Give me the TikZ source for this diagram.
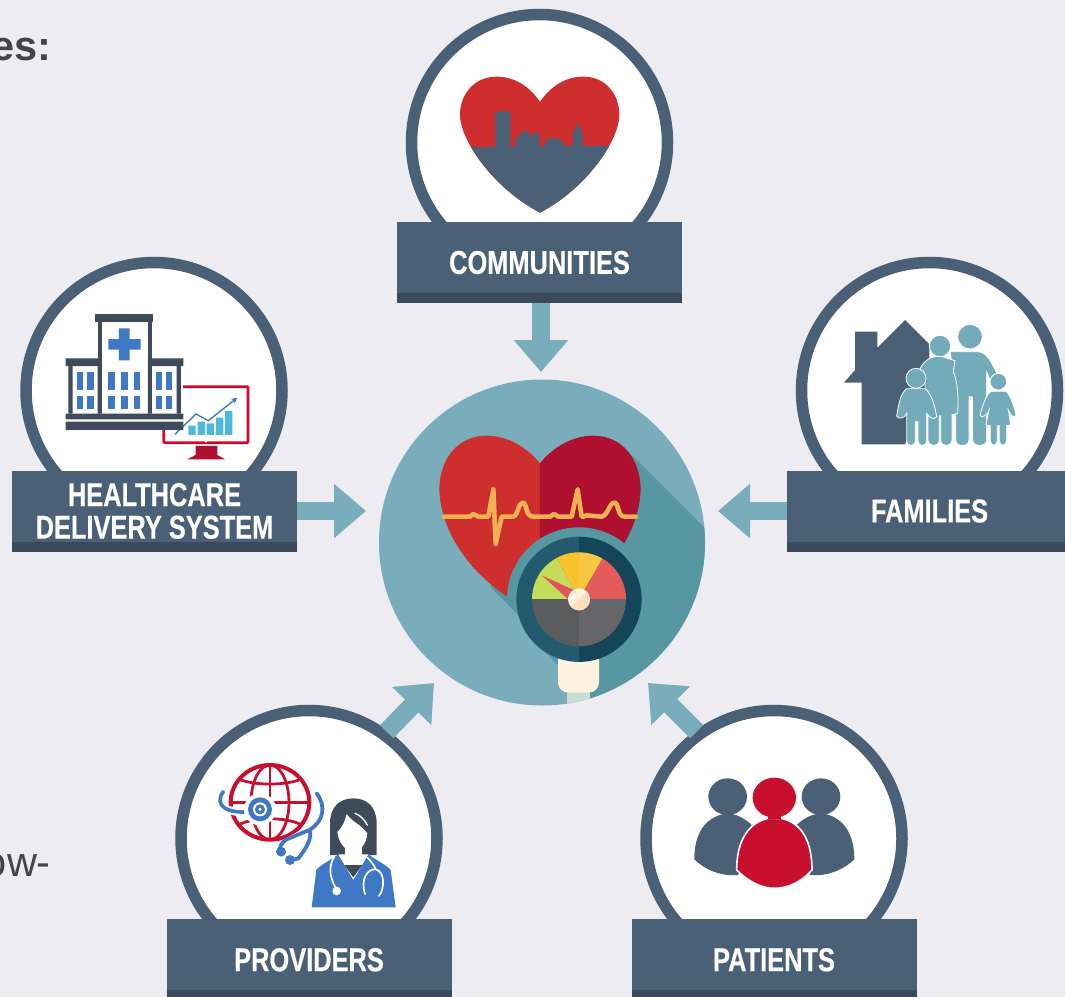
\documentclass[tikz,border=0pt]{standalone}
\usepackage{fontspec}
\setmainfont{Liberation Sans}
\newfontfamily\labelfont[FakeStretch=0.77,BoldFeatures={FakeStretch=0.77,FakeBold=0.4}]{Liberation Sans}
\usetikzlibrary{arrows.meta}
\definecolor{bgc}{HTML}{ECECF1}
\definecolor{slate}{HTML}{4A6076}
\definecolor{slatedark}{HTML}{3A4A5C}
\definecolor{hubteal}{HTML}{79ADBC}
\definecolor{icteal}{HTML}{74ABBB}
\definecolor{tealdark}{HTML}{5797A2}
\definecolor{hred}{HTML}{CF2E2E}
\definecolor{hcrim}{HTML}{B01030}
\definecolor{ecg}{HTML}{EFB252}
\definecolor{crim}{HTML}{C8102E}
\definecolor{blu}{HTML}{3F78C4}
\definecolor{ink}{HTML}{3F4A5A}
\definecolor{txt}{HTML}{444447}
\tikzset{
  ringnode/.style={circle,draw=slate,fill=white,line width=11.5bp,minimum size=256bp,inner sep=0pt,outer sep=0pt},
  tagnode/.style={rectangle,fill=slate,minimum width=285bp,minimum height=81bp,inner sep=0pt,outer sep=0pt,text=white,
     font=\labelfont\bfseries\fontsize{33bp}{32.5bp}\selectfont,align=center},
  hubnode/.style={circle,fill=hubteal,minimum size=326bp,inner sep=0pt,outer sep=0pt},
  flow/.style={draw=hubteal,line width=18.7bp,-{Triangle[length=32bp,width=52.5bp]}},
  strip/.style={fill=slatedark},
  zoomed/.style={x=.33333bp,y=-.33333bp},
  person/.style={fill=icteal,draw=white,line width=.8bp},
  sidetext/.style={text=txt,inner sep=0pt,font=\fontsize{41.5bp}{44bp}\selectfont}
}
\begin{document}
\begin{tikzpicture}[x=1bp,y=-1bp]
\useasboundingbox (0,0) rectangle (1065,997);
\fill[bgc] (0,0) rectangle (1065,997);
\node[sidetext,anchor=base east] (sideA) at (51.5,60.5) {\bfseries es:};
\node[sidetext,anchor=base east] (sideB) at (51,876.7) {ow-};

% rings
\node[ringnode] (commRing) at (539.5,142.5) {};
\node[ringnode] (careRing) at (154,390.5) {};
\node[ringnode] (famRing)  at (929.5,390.5) {};
\node[ringnode] (provRing) at (309,838.5) {};
\node[ringnode] (patRing)  at (774,838.5) {};
% hub
\node[hubnode] (hub) at (542,542.5) {};

% ---------- hub art
\begin{scope}
\clip (542,542.5) circle (163);
\fill[tealdark] (632,455)--(770,593)--(770,780)--(590,780)--(590,697)--(525,632)--(525,621.7)--(490,586.7)--cycle;
\end{scope}
\begin{scope}[shift={(370,370)},zoomed]
 \begin{scope}
 \clip (208,150) rectangle (510,700);
 \fill[hred] (510,280) .. controls (470,230) and (410,197) .. (350,197) .. controls (265,197) and (208,265) .. (208,360) .. controls (212,470) and (280,590) .. (411,680) -- (510,780) -- cycle;
 \end{scope}
 \begin{scope}
 \clip (510,150) rectangle (820,700);
 \fill[hcrim] (510,280) .. controls (550,230) and (610,197) .. (670,197) .. controls (755,197) and (812,265) .. (812,360) .. controls (808,470) and (740,590) .. (609,680) -- (510,780) -- cycle;
 \end{scope}
 \draw[ecg,line width=4.6bp,line join=round,line cap=round]
  (222,440)--(300,440)--(310,432)--(325,440)--(355,440)--(370,358)--(377,522)--(395,440)--(430,440)
  .. controls (445,435) and (445,398) .. (458,398) .. controls (472,398) and (465,440) .. (490,440)
  --(540,440)--(552,432)--(565,440)--(605,440)--(623,358)--(635,440)--(640,440)--(650,436)--(695,440)
  .. controls (715,435) and (718,398) .. (733,398) .. controls (748,398) and (740,440) .. (765,440)--(797,440);
\end{scope}
\begin{scope}
\clip (400,496.7)--(640,736.7)--(720,640)--(720,400)--(480,400)--cycle;
\fill[tealdark] (579,599.3) circle (72);
\end{scope}
% handle
\begin{scope}
\clip (542,542.5) circle (163);
\fill[fill={rgb,255:red,201;green,221;blue,208}] (567,690) rectangle (590,710);
\end{scope}
\fill[fill={rgb,255:red,253;green,242;blue,224},rounded corners=10bp] (558,650) rectangle (599,692.5);
% gauge ring
\begin{scope}
\clip (579,599.3) circle (62.6);
\fill[fill={rgb,255:red,35;green,90;blue,110}] (510,530) rectangle (579,670);
\fill[fill={rgb,255:red,20;green,69;blue,89}] (579,530) rectangle (650,670);
\end{scope}
\begin{scope}
\clip (579,599.3) circle (47);
\fill[fill={rgb,255:red,197;green,220;blue,90}] (579,599.3)--(479,599.3)--(479,480)--(532,511)--cycle;
\fill[fill={rgb,255:red,249;green,194;blue,42}] (579,599.3)--(532,511)--(579,500)--cycle;
\fill[fill={rgb,255:red,247;green,200;blue,63}] (579,599.3)--(579,500)--(629,512.7)--cycle;
\fill[fill={rgb,255:red,229;green,91;blue,91}] (579,599.3)--(629,512.7)--(690,500)--(690,599.3)--cycle;
\fill[fill={rgb,255:red,91;green,92;blue,94}] (479,599.3) rectangle (579,700);
\fill[fill={rgb,255:red,102;green,102;blue,104}] (579,599.3) rectangle (680,700);
\end{scope}
\fill[fill={rgb,255:red,226;green,83;blue,91}] (542.3,575.7)--(574,590)--(570,601)--cycle;
\begin{scope}
\clip (579,599.3) circle (11);
\fill[fill={rgb,255:red,255;green,243;blue,224}] (565,585) rectangle (593,613);
\fill[fill={rgb,255:red,251;green,224;blue,191}] (593,585)--(593,613)--(565,613)--cycle;
\end{scope}

% ---------- communities heart
\begin{scope}[shift={(400,0)},zoomed]
 \path[fill=hred] (420,305) .. controls (385,255) and (340,230) .. (290,230) .. controls (225,230) and (180,280) .. (180,345) .. controls (180,420) and (280,565) .. (420,638) .. controls (560,565) and (658,420) .. (658,345) .. controls (658,280) and (615,230) .. (550,230) .. controls (500,230) and (455,255) .. (420,305) -- cycle;
 \begin{scope}
 \clip (420,305) .. controls (385,255) and (340,230) .. (290,230) .. controls (225,230) and (180,280) .. (180,345) .. controls (180,420) and (280,565) .. (420,638) .. controls (560,565) and (658,420) .. (658,345) .. controls (658,280) and (615,230) .. (550,230) .. controls (500,230) and (455,255) .. (420,305) -- cycle;
 \fill[slate] (150,441)--(286,441)--(286,334)--(331,334)--(331,440)--(347,440)--(347,418)--(375,390)--(402,413)--(402,398)--(418,398)--(418,440)--(431,440)--(443,416)--(480,416)--(495,438)--(519,438)--(519,402)--(533,370)--(548,402)--(548,438)--(700,438)--(700,700)--(150,700)--cycle;
 \end{scope}
\end{scope}

% ---------- hospital and monitor
\begin{scope}[shift={(0,250)},zoomed]
 \fill[white] (487,405) rectangle (748,582);
 \draw[draw={rgb,255:red,224;green,0;blue,45},line width=2.8bp,rounded corners=1bp] (491,410) rectangle (744,578);
 \fill[fill=white] (197,340) rectangle (550,515);
 \fill[fill={rgb,255:red,79;green,184;blue,224}] (565,527) rectangle (587,555) (593,515) rectangle (615,555) (620,520) rectangle (642,555) (648,503) rectangle (670,555) (675,483) rectangle (697,555);
 \draw[blu,line width=1.4bp,-{Stealth[length=6bp,width=6bp]}] (525,553)--(588,492)--(625,512)--(712,443);
 \fill[white] (618,574) circle (4);
 \fill[hcrim] (587,588)--(652,588)--(652,615)--(675,628)--(562,628)--(587,615)--cycle;
 \fill[ink] (285,193) rectangle (460,215);
 \fill[ink] (295,215) rectangle (455,330);
 \fill[white] (306,215) rectangle (444,491);
 \fill[ink] (197,325) rectangle (306,348) (444,325) rectangle (550,348);
 \fill[ink] (205,348) rectangle (218,491) (293,348) rectangle (306,491) (444,348) rectangle (456,491) (530,348) rectangle (543,491);
 \fill[ink] (197,491) rectangle (550,508) (197,515) rectangle (550,540);
 \fill[blu] (357,235) rectangle (389,331) (325,267) rectangle (422,299);
 \foreach \c in {231,262,325,364,402,467,498}{
   \fill[blu] (\c,366) rectangle ++(19,54);
   \fill[blu] (\c,437) rectangle ++(19,41);
 }
\end{scope}

% ---------- family
\begin{scope}[shift={(790,250)},zoomed]
 \fill[slate] (195,245)--(262,245)--(262,293)--(345,210)--(418,283)--(418,420)--(345,583)--(215,583)--(215,398)--(162,398)--(195,360)--cycle;
 % father
 \path[person] (480,305) -- (560,305) .. controls (590,305) and (600,330) .. (622,372) -- (600,390) -- (590,365) -- (590,570) .. controls (590,592) and (548,592) .. (548,570) -- (547,440) -- (537,440) -- (537,570) .. controls (537,592) and (497,592) .. (497,570) -- (497,400) -- cycle;
 \path[person] (540,260) circle (37);
 % mother
 \path[person] (385,370) .. controls (395,335) and (420,318) .. (450,318) -- (495,332) -- (490,365) .. controls (505,400) and (505,450) .. (503,490) -- (486,495) -- (486,570) .. controls (486,592) and (452,592) .. (452,570) -- (452,497) -- (448,497) -- (448,570) .. controls (448,592) and (414,592) .. (414,570) -- (414,495) -- (405,495) -- (405,390) -- cycle;
 \path[person] (450,288) circle (32);
 % left child
 \path[person] (350,416) -- (405,416) .. controls (425,430) and (435,470) .. (440,500) .. controls (435,508) and (420,508) .. (410,490) -- (410,570) .. controls (410,592) and (384,592) .. (384,570) -- (384,515) -- (376,515) -- (376,570) .. controls (376,592) and (350,592) .. (350,570) -- (350,490) .. controls (345,505) and (325,510) .. (320,498) .. controls (325,470) and (330,430) .. (350,416) -- cycle;
 \path[person] (378,385) circle (30);
 % right child
 \path[person] (603,424) -- (648,424) .. controls (662,435) and (672,470) .. (678,495) .. controls (675,505) and (665,503) .. (655,480) -- (662,525) -- (650,527) -- (650,572) .. controls (650,590) and (628,590) .. (628,572) -- (628,527) -- (622,527) -- (622,572) .. controls (622,590) and (601,590) .. (601,572) -- (601,527) -- (588,525) -- (597,480) .. controls (590,500) and (572,505) .. (570,495) .. controls (578,465) and (588,435) .. (603,424) -- cycle;
 \path[person] (625,395) circle (25);
\end{scope}

% ---------- providers: globe and stethoscope
\begin{scope}[shift={(210,750)},zoomed]
 \begin{scope}
 \clip (180,157) ellipse (118 and 112);
 \draw[crim,line width=2.8bp] (180,157) ellipse (57 and 112);
 \draw[crim,line width=2.8bp] (180,40)--(180,275);
 \draw[crim,line width=2.8bp] (50,157)--(310,157);
 \draw[crim,line width=2.8bp] (80,85) .. controls (130,108) and (230,108) .. (280,85);
 \draw[crim,line width=2.8bp] (85,225) .. controls (130,200) and (230,200) .. (275,225);
 \end{scope}
 \draw[crim,line width=4bp] (180,157) ellipse (118 and 112);
 % left hose and chest piece
 \draw[white,line width=8bp] (40,122) .. controls (5,165) and (50,192) .. (120,185);
 \draw[blu,line width=3.6bp,line cap=round] (40,125) .. controls (10,165) and (50,192) .. (120,185);
 \fill[white] (150,178) circle (48);
 \fill[blu] (150,178) circle (36);
 \fill[white] (150,178) circle (21);
 \fill[blu] (150,178) circle (15);
 \fill[white] (150,178) circle (5);
 % right hose and yoke
 \draw[white,line width=8bp,line cap=round] (320,130) .. controls (350,170) and (340,215) .. (298,240) -- (215,285);
 \draw[blu,line width=3.8bp,line cap=round,line join=round] (320,130) .. controls (350,170) and (340,215) .. (298,240);
 \draw[blu,line width=3.8bp,line cap=round,line join=round] (298,240) -- (230,268) .. controls (212,280) and (205,295) .. (212,305);
 \draw[blu,line width=3.8bp,line cap=round,line join=round] (298,240) .. controls (310,262) and (285,300) .. (265,325) -- (245,330);
 \fill[blu] (213,305) circle (15) (240,330) circle (15);
\end{scope}

% ---------- providers: doctor
\begin{scope}[shift={(305,790)},zoomed]
 \fill[ink] (75,195)--(75,100) .. controls (75,50) and (105,25) .. (145,25) .. controls (185,25) and (215,50) .. (215,100) -- (215,195) --cycle;
 \fill[white] (97,125) .. controls (115,110) and (120,90) .. (125,72) .. controls (140,95) and (170,105) .. (187,130) .. controls (185,160) and (165,185) .. (145,187) .. controls (125,185) and (100,160) .. (97,125) -- cycle;
 \draw[white,line width=1.3bp,line cap=round] (150,70) .. controls (165,75) and (178,88) .. (187,105);
 \fill[white] (120,165) rectangle (170,200);
 \fill[blu] (20,352) -- (34,240) .. controls (45,225) and (75,212) .. (100,193) -- (145,270) -- (190,193) .. controls (215,212) and (245,225) .. (257,240) -- (272,352) -- cycle;
 \fill[white] (100,193)--(190,193)--(145,268)--cycle;
 \fill[ink] (118,225)--(172,225)--(145,262)--cycle;
 \draw[white,line width=1.7bp,line cap=round] (88,200) .. controls (65,235) and (80,275) .. (95,298);
 \fill[white] (95,303) circle (13);
 \draw[white,line width=1.7bp,line cap=round] (188,203) .. controls (198,215) and (208,225) .. (212,238);
 \draw[white,line width=1.7bp,line cap=round] (180,312) .. controls (165,265) and (190,235) .. (212,238) .. controls (240,245) and (240,295) .. (222,318);
\end{scope}

% ---------- patients
\begin{scope}[shift={(625,700)},zoomed]
 \fill[slate] (308,290) ellipse (58 and 55);
 \fill[slate] (588,290) ellipse (58 and 55);
 \fill[slate] (295,342) .. controls (240,355) and (208,400) .. (208,478) .. controls (240,510) and (290,530) .. (340,525) -- (380,375) .. controls (365,360) and (340,345) .. (320,342) -- cycle;
 \fill[slate] (601,342) .. controls (655,355) and (688,400) .. (688,478) .. controls (655,510) and (605,530) .. (555,525) -- (515,375) .. controls (530,360) and (555,345) .. (575,342) -- cycle;
 \draw[fill=crim,draw=white,line width=1.6bp] (430,355) .. controls (380,365) and (335,410) .. (335,510) .. controls (370,545) and (410,565) .. (448,565) .. controls (490,565) and (530,545) .. (561,510) .. controls (561,410) and (520,365) .. (468,355) -- cycle;
 \fill[crim] (448,293) ellipse (65 and 60);
 \fill[crim] (430,345) rectangle (468,358);
\end{scope}

% ---------- labels
\node[tagnode] (commTag) at (539.5,262.5) {COMMUNITIES};
\node[tagnode] (careTag) at (154.5,511) {HEALTHCARE\\DELIVERY SYSTEM};
\node[tagnode] (famTag)  at (929.5,511) {FAMILIES};
\node[tagnode] (provTag) at (309,959.8) {PROVIDERS};
\node[tagnode] (patTag)  at (774,959.8) {PATIENTS};
\foreach \t in {commTag,careTag,famTag,provTag,patTag}
  \fill[strip] (\t.south west) rectangle ([yshift=10bp]\t.south east);

% ---------- connectors
\coordinate (tipTop) at (541,372);
\coordinate (tipLeft) at (366,511);
\coordinate (tipRight) at (718,511);
\coordinate (tipProv) at (434,683);
\coordinate (tipPat) at (648,683);
\coordinate (provOut) at (386.7,731.7);
\coordinate (patOut) at (696.7,731.7);
\draw[flow] (commTag.south -| tipTop) -- (tipTop);
\draw[flow] (careTag.east |- tipLeft) -- (tipLeft);
\draw[flow] (famTag.west |- tipRight) -- (tipRight);
\draw[flow] (provOut) -- (tipProv);
\draw[flow] (patOut) -- (tipPat);
\end{tikzpicture}
\end{document}
